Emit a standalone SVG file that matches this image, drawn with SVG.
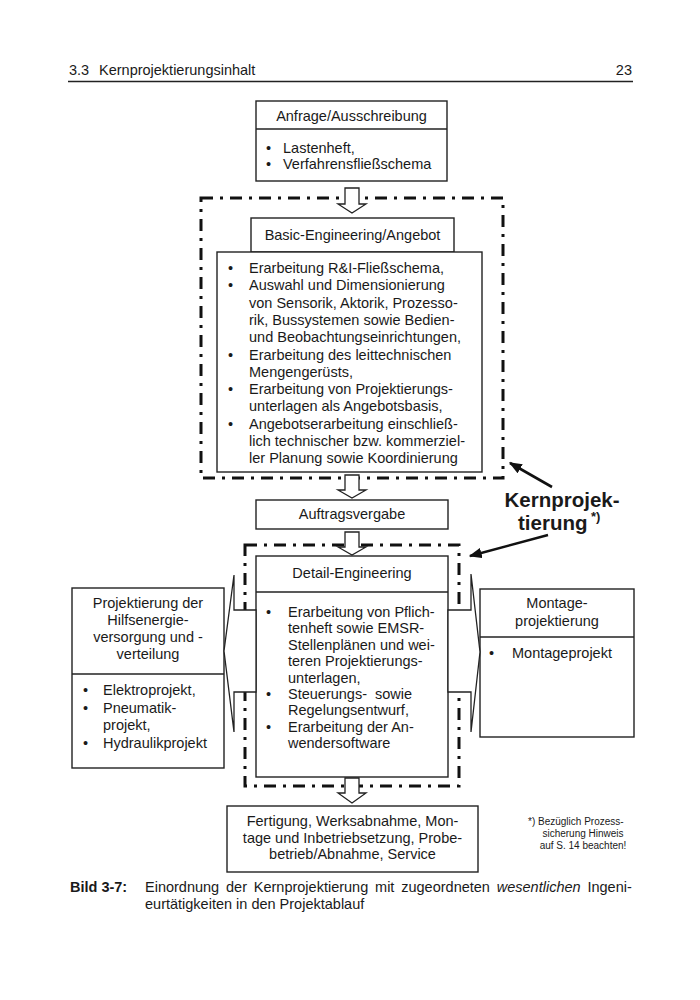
<svg xmlns="http://www.w3.org/2000/svg" width="700" height="1000" viewBox="0 0 700 1000">
<style>
text{font-family:"Liberation Sans",Arial,sans-serif;font-size:14.5px;fill:#1a1a1a}
.c{text-anchor:middle}
.box{fill:#fff;stroke:#222;stroke-width:1.4}
.div{stroke:#222;stroke-width:1.4}
.frame{fill:none;stroke:#111;stroke-width:3;stroke-dasharray:12 7 3 7}
.blk{fill:#fff;stroke:#222;stroke-width:1.3;stroke-linejoin:miter}
.lbl{stroke:#111;stroke-width:2.6;fill:none}
.fn{font-size:10px}
.big{font-size:20.5px;font-weight:bold}
</style>
<defs>
<marker id="ah" viewBox="0 0 10 8" refX="9" refY="4" markerWidth="5" markerHeight="4" orient="auto">
<path d="M0,0 L10,4 L0,8 Z" fill="#111"/>
</marker>
</defs>
<rect width="700" height="1000" fill="#fff"/>

<g id="header">
<text x="69" y="75">3.3</text>
<text x="99" y="75">Kernprojektierungsinhalt</text>
<text x="632" y="75" text-anchor="end">23</text>
<line x1="68" y1="81.5" x2="633" y2="81.5" stroke="#222" stroke-width="1.4"/>
</g>

<g id="frames">
<rect class="frame" x="201" y="198" width="302" height="280"/>
<rect class="frame" x="245" y="545" width="214" height="241"/>
</g>

<g id="anfrage">
<rect class="box" x="256" y="101" width="191" height="80"/>
<line class="div" x1="256" y1="129" x2="447" y2="129"/>
<text class="c" x="351.5" y="121">Anfrage/Ausschreibung</text>
<text x="266" y="153">•</text><text x="283" y="153">Lastenheft,</text>
<text x="266" y="169">•</text><text x="283" y="169">Verfahrensfließschema</text>
</g>

<g id="basic">
<rect class="box" x="251" y="218" width="203" height="34"/>
<text class="c" x="352.5" y="240">Basic-Engineering/Angebot</text>
<rect class="box" x="217" y="252" width="265" height="220"/>
<text x="228" y="273">•</text><text x="249" y="273">Erarbeitung R&amp;I-Fließschema,</text>
<text x="228" y="290.3">•</text><text x="249" y="290.3">Auswahl und Dimensionierung</text>
<text x="249" y="307.6">von Sensorik, Aktorik, Prozesso-</text>
<text x="249" y="324.9">rik, Bussystemen sowie Bedien-</text>
<text x="249" y="342.2">und Beobachtungseinrichtungen,</text>
<text x="228" y="359.5">•</text><text x="249" y="359.5">Erarbeitung des leittechnischen</text>
<text x="249" y="376.8">Mengengerüsts,</text>
<text x="228" y="394.1">•</text><text x="249" y="394.1">Erarbeitung von Projektierungs-</text>
<text x="249" y="411.4">unterlagen als Angebotsbasis,</text>
<text x="228" y="428.7">•</text><text x="249" y="428.7">Angebotserarbeitung einschließ-</text>
<text x="249" y="446">lich technischer bzw. kommerziel-</text>
<text x="249" y="463.3">ler Planung sowie Koordinierung</text>
</g>

<g id="auftrag">
<rect class="box" x="256" y="500" width="192" height="29"/>
<text class="c" x="352" y="519">Auftragsvergabe</text>
</g>

<g id="detail">
<rect class="box" x="256" y="556" width="192" height="221"/>
<line class="div" x1="256" y1="592" x2="448" y2="592"/>
<text class="c" x="352" y="578">Detail-Engineering</text>
<text x="266" y="617">•</text><text x="288" y="617">Erarbeitung von Pflich-</text>
<text x="288" y="633.4">tenheft sowie EMSR-</text>
<text x="288" y="649.8">Stellenplänen und wei-</text>
<text x="288" y="666.2">teren Projektierungs-</text>
<text x="288" y="682.6">unterlagen,</text>
<text x="266" y="699">•</text><text x="288" y="699" word-spacing="4">Steuerungs- sowie</text>
<text x="288" y="715.4">Regelungsentwurf,</text>
<text x="266" y="731.8">•</text><text x="288" y="731.8">Erarbeitung der An-</text>
<text x="288" y="748.2">wendersoftware</text>
</g>

<g id="hilfsenergie">
<rect class="box" x="72" y="588" width="152" height="180"/>
<line class="div" x1="72" y1="674" x2="224" y2="674"/>
<text class="c" x="148" y="608">Projektierung der</text>
<text class="c" x="148" y="625">Hilfsenergie-</text>
<text class="c" x="148" y="642">versorgung und -</text>
<text class="c" x="148" y="659">verteilung</text>
<text x="83" y="695">•</text><text x="103" y="695">Elektroprojekt,</text>
<text x="83" y="713">•</text><text x="103" y="713">Pneumatik-</text>
<text x="103" y="730">projekt,</text>
<text x="83" y="748">•</text><text x="103" y="748">Hydraulikprojekt</text>
</g>

<g id="montage">
<rect class="box" x="480" y="589" width="154" height="148"/>
<line class="div" x1="480" y1="637" x2="634" y2="637"/>
<text class="c" x="557" y="608">Montage-</text>
<text class="c" x="557" y="626">projektierung</text>
<text x="489" y="658">•</text><text x="512" y="658">Montageprojekt</text>
</g>

<g id="fertigung">
<rect class="box" x="227" y="806" width="251" height="66"/>
<text class="c" x="352.5" y="826">Fertigung, Werksabnahme, Mon-</text>
<text class="c" x="352.5" y="843">tage und Inbetriebsetzung, Probe-</text>
<text class="c" x="352.5" y="859">betrieb/Abnahme, Service</text>
</g>

<g id="kernprojektierung">
<text class="big" x="562" y="507" text-anchor="middle">Kernprojek-</text>
<text class="big" x="518" y="530">tierung</text>
<text x="591" y="521" style="font-size:13px;font-weight:bold">*)</text>
</g>

<g id="footnote">
<text class="fn" x="528" y="825">*) Bezüglich Prozess-</text>
<text class="fn c" x="583" y="837">sicherung Hinweis</text>
<text class="fn c" x="583" y="849">auf S. 14 beachten!</text>
</g>

<g id="connectors">
<path class="blk" d="M345,188 H359 V204 H366 L352,213 L338,204 H345 Z"/>
<path class="blk" d="M345,475 H359 V490 H366 L352,498 L338,490 H345 Z"/>
<path class="blk" d="M345,532 H359 V547 H366 L352,555 L338,547 H345 Z"/>
<path class="blk" d="M345,778 H359 V793 H366 L352,803 L338,793 H345 Z"/>
<polygon class="blk" points="256,610 234,610 234,575 224,651 234,732 234,692 256,692"/>
<polygon class="blk" points="448,610 471,610 471,574 480,652 471,732 471,692 448,692"/>
<line class="lbl" x1="552" y1="487" x2="510" y2="463" marker-end="url(#ah)"/>
<line class="lbl" x1="548" y1="535" x2="470" y2="556" marker-end="url(#ah)"/>
</g>

<g id="caption">
<text x="70" y="892" font-weight="bold">Bild 3-7:</text>
<text x="145" y="892" word-spacing="2.8">Einordnung der Kernprojektierung mit zugeordneten <tspan font-style="italic">wesentlichen</tspan> Ingeni-</text>
<text x="145" y="909">eurtätigkeiten in den Projektablauf</text>
</g>
</svg>
